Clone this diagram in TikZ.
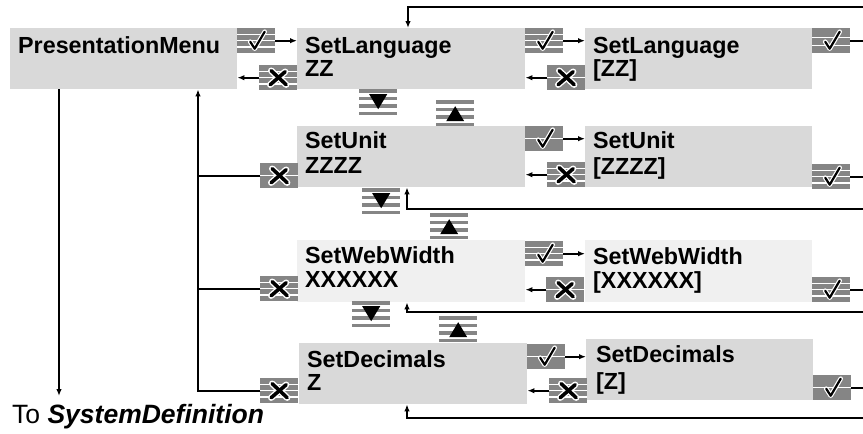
\documentclass[tikz,border=0pt]{standalone}
\usepackage{fontspec}
\setmainfont{Liberation Sans}
\usetikzlibrary{arrows.meta,calc}
\definecolor{boxgray}{HTML}{D9D9D9}
\definecolor{boxlight}{HTML}{F0F0F0}
\definecolor{icongray}{HTML}{858585}
\newcommand{\ppc}{path picture bounding box.center}
\newcommand{\bandlines}{\foreach \k in {-6.25,0,6.25}{\draw[white,line width=1.4pt] ($(\ppc)+(-20,\k)$) -- ++(40,0);}}
\newcommand{\threelines}{\foreach \k in {-3.5,4.5}{\draw[white,line width=1.2pt] ($(\ppc)+(-20,\k)$) -- ++(40,0);}}
\newcommand{\plainline}{\draw[white,line width=1pt] ($(\ppc)+(-20,0)$) -- ++(40,0);}
\newcommand{\ckmark}{%
  \draw[white,line width=4.6pt,line cap=round,line join=round] ($(\ppc)+(-6,1)$) -- ++(4.5,7) -- ++(10,-17);
  \draw[black,line width=2.2pt,line cap=round,line join=round] ($(\ppc)+(-6,1)$) -- ++(4.5,7) -- ++(10,-17);}
\newcommand{\cxmark}{%
  \draw[white,line width=6.4pt,line cap=round] ($(\ppc)+(-7,-7)$) .. controls ($(\ppc)+(0,0)$) .. ($(\ppc)+(8,7)$);
  \draw[white,line width=6.4pt,line cap=round] ($(\ppc)+(7,-6)$) .. controls ($(\ppc)+(-1,1)$) .. ($(\ppc)+(-8,7)$);
  \draw[black,line width=3.6pt,line cap=round] ($(\ppc)+(-7,-7)$) .. controls ($(\ppc)+(0,0)$) .. ($(\ppc)+(8,7)$);
  \draw[black,line width=3.6pt,line cap=round] ($(\ppc)+(7,-6)$) .. controls ($(\ppc)+(-1,1)$) .. ($(\ppc)+(-8,7)$);}
\tikzset{
  box/.style={fill=boxgray, inner sep=0, minimum width=228pt, minimum height=61pt, anchor=north west},
  lightbox/.style={box, fill=boxlight, minimum height=62pt},
  lbl/.style={inner sep=0, anchor=base west, font=\bfseries\fontsize{23.3}{24}\selectfont},
  icon/.style={inner sep=0, minimum width=38pt, minimum height=25pt, anchor=north west, fill=icongray, path picture={#1}},
  navicon/.style={inner sep=0, minimum width=38pt, minimum height=26pt, anchor=north west},
  downicon/.style={navicon, path picture={\foreach \k in {0,2,4,6}{\fill[icongray] ($(path picture bounding box.north west)+(0,\k*3.72)$) rectangle ++(38,3.72);}
     \fill[black] ($(path picture bounding box.north)+(-9,5)$) -- ($(path picture bounding box.north)+(9,5)$) -- ($(path picture bounding box.north)+(0,20)$) -- cycle;}},
  upicon/.style={navicon, path picture={\foreach \k in {0,2,4,6}{\fill[icongray] ($(path picture bounding box.north west)+(0,\k*3.72)$) rectangle ++(38,3.72);}
     \fill[black] ($(path picture bounding box.north)+(-9,21)$) -- ($(path picture bounding box.north)+(9,21)$) -- ($(path picture bounding box.north)+(0,6)$) -- cycle;}},
  conn/.style={line width=2pt},
  arr/.style={conn, -{Latex[length=7pt,width=5.5pt]}},
}
\begin{document}
\begin{tikzpicture}[x=1pt,y=-1pt]
\useasboundingbox (0,0) rectangle (863,434);
% boxes
\node[box, minimum width=227pt] (B0) at (10,28) {};
\node[box] (B1) at (297,28) {};
\node[box, minimum width=227pt] (B1r) at (585,28) {};
\node[box] (B2) at (297,126) {};
\node[box, minimum width=227pt] (B2r) at (585,126) {};
\node[lightbox] (B3) at (297,240) {};
\node[lightbox, minimum width=227pt] (B3r) at (585,240) {};
\node[box] (B4) at (299,343) {};
\node[box, minimum width=227pt] (B4r) at (586,339) {};
% texts
\node[lbl] (T0) at (18,53) {PresentationMenu};
\node[lbl] (T1a) at (305,53) {SetLanguage};
\node[lbl] (T1b) at (305,76) {ZZ};
\node[lbl] (T1c) at (593,53) {SetLanguage};
\node[lbl] (T1d) at (593,76) {[ZZ]};
\node[lbl] (T2a) at (305,148) {SetUnit};
\node[lbl] (T2b) at (305,173) {ZZZZ};
\node[lbl] (T2c) at (593,148) {SetUnit};
\node[lbl] (T2d) at (593,174) {[ZZZZ]};
\node[lbl] (T3a) at (305,263) {SetWebWidth};
\node[lbl] (T3b) at (305,287) {XXXXXX};
\node[lbl] (T3c) at (593,264) {SetWebWidth};
\node[lbl] (T3d) at (593,288) {[XXXXXX]};
\node[lbl] (T4a) at (307,367) {SetDecimals};
\node[lbl] (T4b) at (307,390) {Z};
\node[lbl] (T4c) at (596,362) {SetDecimals};
\node[lbl] (T4d) at (596,389) {[Z]};
\node[inner sep=0, anchor=base west, font=\fontsize{26.5}{27}\selectfont] (TO) at (12,423) {To \textbf{\textit{SystemDefinition}}};
% icons
\node[icon={\bandlines\ckmark}] (C0) at (237,28) {};
\node[icon={\bandlines\cxmark}] (X0) at (259,65) {};
\node[icon={\bandlines\ckmark}] (C1) at (525,28) {};
\node[icon={\plainline\cxmark}] (X1) at (547,65) {};
\node[icon={\threelines\ckmark}] (C1r) at (812,28) {};
\node[downicon] (D1) at (359,89) {};
\node[upicon] (U1) at (436,100) {};
\node[icon={\plainline\cxmark}] (XL2) at (260,163) {};
\node[icon={\plainline\ckmark}] (C2) at (525,126) {};
\node[icon={\bandlines\cxmark}] (X2) at (547,162) {};
\node[icon={\bandlines\ckmark}] (C2r) at (812,164) {};
\node[downicon] (D2) at (362,188) {};
\node[upicon] (U2) at (430,213) {};
\node[icon={\bandlines\cxmark}] (XL3) at (260,276) {};
\node[icon={\bandlines\ckmark}] (C3) at (525,241) {};
\node[icon={\plainline\cxmark}] (X3) at (546,277) {};
\node[icon={\bandlines\ckmark}] (C3r) at (812,277) {};
\node[downicon] (D3) at (352,301) {};
\node[upicon] (U3) at (439,316) {};
\node[icon={\bandlines\cxmark}] (XL4) at (260,378) {};
\node[icon={\plainline\ckmark}] (C4) at (527,344) {};
\node[icon={\bandlines\cxmark}] (X4) at (549,378) {};
\node[icon={\plainline\ckmark}] (C4r) at (813,375) {};
% coordinates
\coordinate (RE) at (866,0);
\coordinate (R1) at (866,7);
\coordinate (R2) at (866,209);
\coordinate (R3) at (866,312);
\coordinate (R4) at (866,418);
\coordinate (VB) at ($(B0.south west)+(188,0)$);
\coordinate (VA) at ($(B0.south west)+(49,0)$);
\coordinate (SD) at (59,396);
% connectors row 1
\draw[arr] (C0.east) -- (C0.east -| B1.west);
\draw[arr] (X0.west) -- (X0.west -| B0.east);
\draw[arr] (C1.east) -- (C1.east -| B1r.west);
\draw[arr] (X1.west) -- (X1.west -| B1.east);
\draw[conn] (C1r.east) -- (C1r.east -| RE);
\draw[arr] (R1) -| ($(B1.north west)+(111,0)$);
% row 2
\draw[arr] (C2.east) -- (C2.east -| B2r.west);
\draw[arr] (X2.west) -- (X2.west -| B2.east);
\draw[conn] (C2r.east) -- (C2r.east -| RE);
\draw[arr] (R2) -| ($(B2.south west)+(110,0)$);
% row 3
\draw[arr] (C3.east) -- (C3.east -| B3r.west);
\draw[arr] (X3.west) -- (X3.west -| B3.east);
\draw[conn] (C3r.east) -- (C3r.east -| RE);
\draw[arr] (R3) -| ($(B3.south west)+(110,0)$);
% row 4
\draw[arr] (C4.east) -- (C4.east -| B4r.west);
\draw[arr] (X4.west) -- (X4.west -| B4.east);
\draw[conn] (C4r.east) -- (C4r.east -| RE);
\draw[arr] (R4) -| ($(B4.south west)+(108,0)$);
% left side
\draw[arr] (VA) -- (SD);
\draw[arr] (XL4.west) -| (VB);
\draw[conn] (XL2.west) -- (XL2.west -| VB);
\draw[conn] (XL3.west) -- (XL3.west -| VB);
\end{tikzpicture}
\end{document}
